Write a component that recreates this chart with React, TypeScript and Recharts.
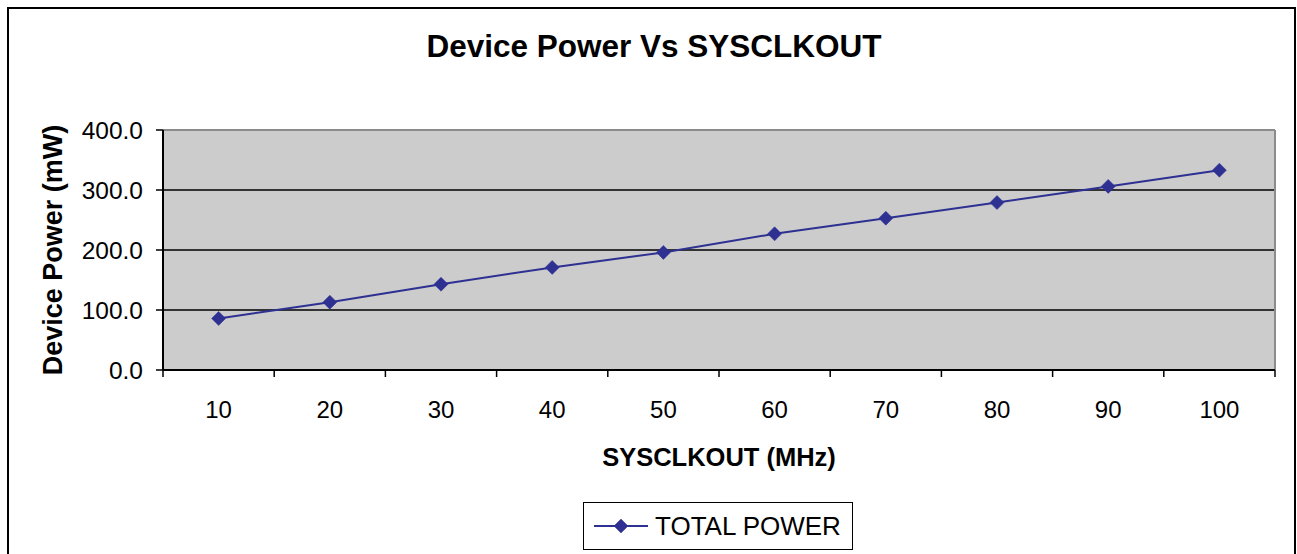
import React from "react";
import {
  LineChart,
  Line,
  XAxis,
  YAxis,
  CartesianGrid,
  Legend,
  Label,
} from "recharts";

const categories = [10, 20, 30, 40, 50, 60, 70, 80, 90, 100];
const totalPower = [86, 113, 143, 171, 196, 227, 253, 279, 306, 333];
const yTicks = [0, 100, 200, 300, 400];

const data = categories.map((mhz, i) => ({ mhz, power: totalPower[i] }));

const W = 1297;
const H = 554;
const PLOT_LEFT = 163;
const PLOT_RIGHT = 1275;
const PLOT_TOP = 130;
const PLOT_BOTTOM = 370;
const PLOT_W = PLOT_RIGHT - PLOT_LEFT;
const XAXIS_H = 60;
const FONT = "'Liberation Sans', Arial, Helvetica, sans-serif";
const SERIES = "#2E3092";

const Diamond = (props: any) => {
  const { cx, cy } = props;
  if (cx == null || cy == null) return null;
  const r = 7;
  return (
    <polygon
      points={`${cx},${cy - r} ${cx + r},${cy} ${cx},${cy + r} ${cx - r},${cy}`}
      fill={SERIES}
      stroke={SERIES}
      strokeWidth={0.5}
    />
  );
};

const XTick = (props: any) => {
  const { x, y, payload, index } = props;
  const bw = PLOT_W / categories.length;
  const left = x - bw / 2;
  const right = x + bw / 2;
  return (
    <g>
      <line x1={left} y1={y} x2={left} y2={y + 7} stroke="#000" strokeWidth={1.5} />
      {index === categories.length - 1 && (
        <line x1={right} y1={y} x2={right} y2={y + 7} stroke="#000" strokeWidth={1.5} />
      )}
      <text
        x={x}
        y={y + 39}
        textAnchor="middle"
        dominantBaseline="central"
        fontFamily={FONT}
        fontSize={24}
        fill="#000"
      >
        {payload.value}
      </text>
    </g>
  );
};

const HLine = (p: any) => {
  const isTop = p.y1 <= PLOT_TOP + 1;
  return (
    <line
      key={p.key}
      x1={p.x1}
      y1={p.y1}
      x2={p.x2}
      y2={p.y2}
      stroke={isTop ? "#8C8C8C" : "#000"}
      strokeWidth={isTop ? 2 : 1.5}
    />
  );
};

const VLine = (p: any) => (
  <line
    key={p.key}
    x1={p.x1}
    y1={p.y1}
    x2={p.x2}
    y2={p.y2}
    stroke="#8C8C8C"
    strokeWidth={2}
  />
);

const LegendContent = () => (
  <div
    style={{
      width: 270,
      height: 48,
      boxSizing: "border-box",
      border: "1.5px solid #000",
      background: "#fff",
      position: "relative",
      fontFamily: FONT,
    }}
  >
    <svg width={64} height={46} style={{ position: "absolute", left: 8, top: 0 }}>
      <line x1={2} y1={23} x2={56} y2={23} stroke={SERIES} strokeWidth={2} />
      <Diamond cx={29} cy={23} />
    </svg>
    <span
      style={{
        position: "absolute",
        left: 71,
        top: 0,
        lineHeight: "46px",
        fontSize: 26,
        color: "#000",
        whiteSpace: "nowrap",
      }}
    >
      TOTAL POWER
    </span>
  </div>
);

export default function App() {
  return (
    <div
      style={{
        position: "fixed",
        left: 0,
        top: 0,
        width: W,
        height: H,
        overflow: "hidden",
        background: "#fff",
      }}
    >
      <div
        style={{
          position: "absolute",
          left: 7,
          top: 7,
          width: 1289,
          height: 620,
          boxSizing: "border-box",
          border: "2px solid #000",
        }}
      />
      <div
        style={{
          position: "absolute",
          left: 0,
          width: 1308,
          top: 26,
          textAlign: "center",
          fontFamily: FONT,
          fontWeight: "bold",
          fontSize: 31.5,
          lineHeight: "40px",
          color: "#000",
        }}
      >
        Device Power Vs SYSCLKOUT
      </div>
      <div style={{ position: "absolute", left: 0, top: 0 }}>
        <LineChart
          width={W}
          height={H}
          data={data}
          margin={{
            top: PLOT_TOP,
            right: W - PLOT_RIGHT,
            bottom: H - PLOT_BOTTOM - XAXIS_H,
            left: 0,
          }}
        >
          <CartesianGrid
            fill="#CCCCCC"
            horizontal={HLine as any}
            vertical={VLine as any}
            verticalCoordinatesGenerator={(args: any) => [
              args.offset.left + args.offset.width,
            ]}
          />
          <XAxis
            dataKey="mhz"
            type="category"
            scale="band"
            height={XAXIS_H}
            tickLine={false}
            tickSize={0}
            tickMargin={0}
            interval={0}
            axisLine={{ stroke: "#000", strokeWidth: 2 }}
            tick={XTick as any}
          >
            <Label
              content={(p: any) => {
                const vb = p.viewBox;
                return (
                  <text
                    x={vb.x + vb.width / 2}
                    y={vb.y + 87}
                    textAnchor="middle"
                    dominantBaseline="central"
                    fontFamily={FONT}
                    fontWeight="bold"
                    fontSize={25.5}
                    fill="#000"
                  >
                    SYSCLKOUT (MHz)
                  </text>
                );
              }}
            />
          </XAxis>
          <YAxis
            type="number"
            domain={[0, 400]}
            ticks={yTicks}
            interval={0}
            width={PLOT_LEFT}
            tickSize={7}
            tickMargin={13}
            tickFormatter={(v: number) => v.toFixed(1)}
            tick={{ fontFamily: FONT, fontSize: 24.5, fill: "#000" }}
            tickLine={{ stroke: "#000", strokeWidth: 1.5 }}
            axisLine={{ stroke: "#000", strokeWidth: 2 }}
          >
            <Label
              content={(p: any) => {
                const vb = p.viewBox;
                const cx = vb.x + 53;
                const cy = vb.y + vb.height / 2;
                return (
                  <text
                    x={cx}
                    y={cy}
                    transform={`rotate(-90, ${cx}, ${cy})`}
                    textAnchor="middle"
                    dominantBaseline="central"
                    fontFamily={FONT}
                    fontWeight="bold"
                    fontSize={27}
                    fill="#000"
                  >
                    Device Power (mW)
                  </text>
                );
              }}
            />
          </YAxis>
          <Legend
            layout="horizontal"
            verticalAlign="middle"
            align="center"
            content={LegendContent as any}
            wrapperStyle={{ position: "absolute", left: 583, top: 502, width: 270, height: 48 }}
          />
          <Line
            type="linear"
            dataKey="power"
            name="TOTAL POWER"
            stroke={SERIES}
            strokeWidth={2}
            dot={Diamond as any}
            activeDot={false}
            isAnimationActive={false}
          />
        </LineChart>
      </div>
    </div>
  );
}
